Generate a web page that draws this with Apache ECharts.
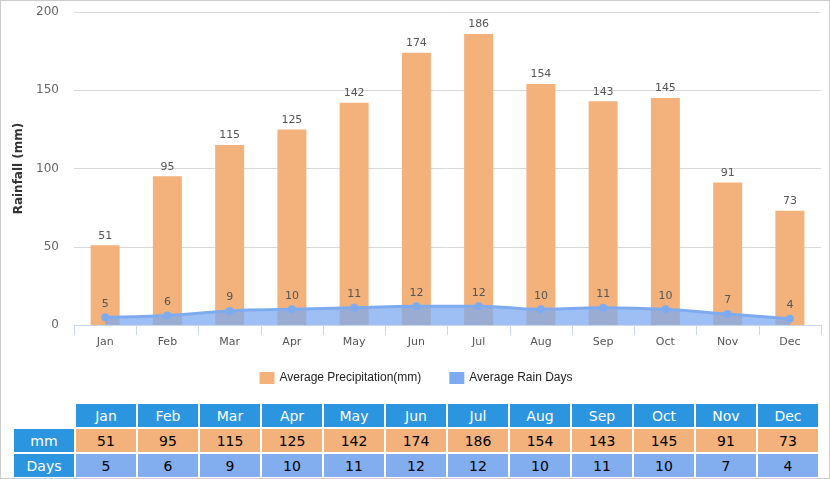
<!DOCTYPE html>
<html><head><meta charset="utf-8">
<script src="https://cdn.jsdelivr.net/npm/echarts@6/dist/echarts.min.js"></script>
<style>
html,body{margin:0;padding:0;background:#fff;}
#wrap{position:relative;width:830px;height:479px;box-sizing:border-box;border:1px solid #ccc;overflow:hidden;}
#chart{position:absolute;left:0;top:0;width:830px;height:395px;}
#tbl{position:absolute;left:11px;top:401px;border-collapse:separate;border-spacing:2px;font-family:"DejaVu Sans",Verdana,sans-serif;font-size:14px;}
#tbl td{height:23px;padding:0;text-align:center;}
#tbl td.h{background:#2b95e0;color:#fff;}
#tbl td.rh{background:#2b95e0;color:#fff;width:60px;}
#tbl td.mm{background:#f3b27b;color:#000;width:60px;}
#tbl td.dy{background:#82aef0;color:#000;width:60px;}
</style></head>
<body><div id="wrap"><div id="chart"></div><table id="tbl"></table></div>
<script>
const months = ["Jan","Feb","Mar","Apr","May","Jun","Jul","Aug","Sep","Oct","Nov","Dec"];
const precipitation = [51,95,115,125,142,174,186,154,143,145,91,73];
const rainDays = [5,6,9,10,11,12,12,10,11,10,7,4];
const yTicks = {min:0,max:200,interval:50};

// table
const tbl = document.getElementById('tbl');
let html = '<tr><td></td>' + months.map(m=>'<td class="h">'+m+'</td>').join('') + '</tr>';
html += '<tr><td class="rh">mm</td>' + precipitation.map(v=>'<td class="mm">'+v+'</td>').join('') + '</tr>';
html += '<tr><td class="rh">Days</td>' + rainDays.map(v=>'<td class="dy">'+v+'</td>').join('') + '</tr>';
tbl.innerHTML = html;

const chart = echarts.init(document.getElementById('chart'), null, {renderer:'canvas'});
const lbl = {show:true,position:'top',color:'#555',fontSize:11,fontFamily:'"DejaVu Sans",Verdana,sans-serif',distance:4};
chart.setOption({
  animation:false,
  textStyle:{fontFamily:'"DejaVu Sans",Verdana,sans-serif'},
  grid:{left:73,right:10,top:11,height:313},
  legend:{bottom:7,left:'center',itemWidth:15,itemHeight:12,itemGap:28,
    textStyle:{color:'#222',fontSize:12,fontFamily:'"Liberation Sans",Arial,sans-serif'},
    data:[{name:'Average Precipitation(mm)',icon:'rect'},{name:'Average Rain Days',icon:'rect'}]},
  xAxis:{type:'category',data:months,
    axisLine:{lineStyle:{color:'#ccd6eb'}},
    axisTick:{show:true,length:10,lineStyle:{color:'#ccd6eb'}},
    axisLabel:{color:'#555',fontSize:11,margin:12}},
  yAxis:{type:'value',min:yTicks.min,max:yTicks.max,interval:yTicks.interval,
    name:'Rainfall (mm)',nameLocation:'middle',nameGap:40,nameRotate:90,
    nameTextStyle:{color:'#333',fontSize:12,fontWeight:'bold'},
    axisLine:{show:false},axisTick:{show:false},
    axisLabel:{color:'#666',fontSize:12,margin:15},
    splitLine:{lineStyle:{color:'#d8d8d8'}}},
  series:[
    {name:'Average Precipitation(mm)',type:'bar',data:precipitation,barWidth:29,
      itemStyle:{color:'#f3b27b'},label:lbl},
    {name:'Average Rain Days',type:'line',data:rainDays,smooth:true,
      symbol:'circle',symbolSize:8,
      lineStyle:{color:'#7eabf0',width:3},
      itemStyle:{color:'#7eabf0'},
      areaStyle:{color:'#7eaaf0',opacity:0.75},
      label:lbl}
  ]
});
</script></body></html>
